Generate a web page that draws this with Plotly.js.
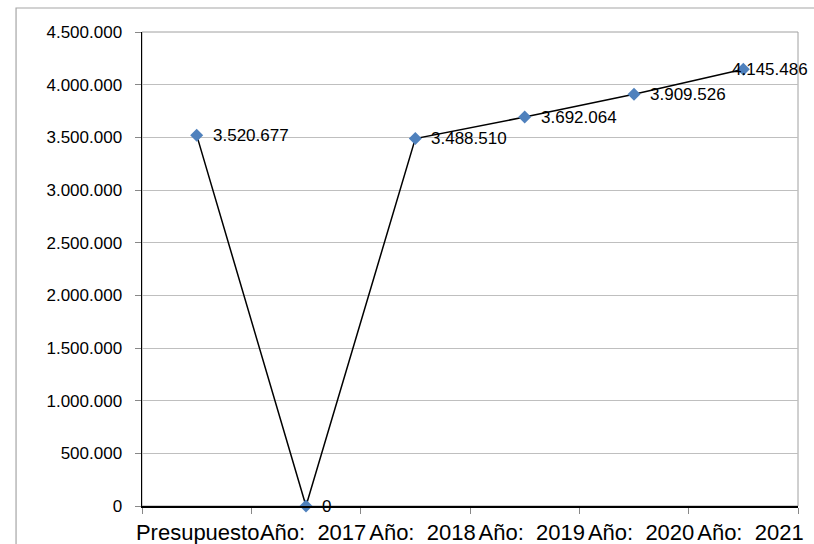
<!DOCTYPE html>
<html>
<head>
<meta charset="utf-8">
<script src="https://cdn.plot.ly/plotly-3.0.1.min.js"></script>
<style>
html, body { margin: 0; padding: 0; background: #ffffff; }
#chart { width: 814px; height: 544px; }
</style>
</head>
<body>
<div id="chart"></div>
<script>
// ---- data ----
const categories = ['Presupuesto', 'Año:  2017', 'Año:  2018', 'Año:  2019', 'Año:  2020', 'Año:  2021'];
const values = [3520677, 0, 3488510, 3692064, 3909526, 4145486];
const yTickValues = [0, 500000, 1000000, 1500000, 2000000, 2500000, 3000000, 3500000, 4000000, 4500000];

// ---- helpers ----
const fmt = v => String(v).replace(/\B(?=(\d{3})+(?!\d))/g, '.');
const NB = '\u00a0';
// keep double spaces visible; year labels sit slightly right of their category centre in the reference
const xTickText = categories.map((c, i) => (i === 0 ? '' : NB + NB) + c.replace(/ /g, NB));
const FONT = '"Liberation Sans", Arial, sans-serif';

// plot area in pixels: x 142..798, y 32..506
const labelShift = [14, 14, 14, 14, 14, -13];

const trace = {
  type: 'scatter',
  mode: 'lines+markers',
  x: categories,
  y: values,
  line: { color: '#000000', width: 1.5 },
  marker: { symbol: 'diamond', size: 10, color: '#4f81bd' },
  cliponaxis: false,
  hoverinfo: 'skip'
};

const annotations = categories.map((c, i) => ({
  x: c, y: values[i], xref: 'x', yref: 'y',
  text: fmt(values[i]),
  showarrow: false,
  xanchor: 'left', yanchor: 'middle',
  xshift: labelShift[i],
  font: { family: FONT, size: 17, color: '#000000' }
}));

const layout = {
  width: 814, height: 544,
  margin: { l: 142, r: 16, t: 32, b: 38, pad: 0 },
  paper_bgcolor: '#ffffff', plot_bgcolor: '#ffffff',
  showlegend: false,
  font: { family: FONT, color: '#000000' },
  xaxis: {
    type: 'category',
    range: [-0.5, categories.length - 0.5],
    tickmode: 'array',
    tickvals: categories,
    ticktext: xTickText,
    tickson: 'boundaries',
    ticks: 'outside', ticklen: 6, tickcolor: '#888888', tickwidth: 1,
    showline: true, linecolor: '#000000', linewidth: 1.5,
    showgrid: false, zeroline: false,
    tickangle: 0,
    tickfont: { family: FONT, size: 22, color: '#000000' },
    ticklabelshift: 1,
    ticklabelstandoff: 6,
    fixedrange: true
  },
  yaxis: {
    range: [0, 4500000],
    tickmode: 'array',
    tickvals: yTickValues,
    ticktext: yTickValues.map(fmt),
    ticks: 'outside', ticklen: 6, tickcolor: '#888888', tickwidth: 1,
    showline: true, linecolor: '#000000', linewidth: 1.5,
    showgrid: true, gridcolor: '#bfbfbf', gridwidth: 1,
    zeroline: false,
    tickfont: { family: FONT, size: 17, color: '#000000' },
    ticklabelstandoff: 9,
    fixedrange: true
  },
  shapes: [
    { type: 'rect', xref: 'paper', yref: 'paper', x0: 0, x1: 1, y0: 0, y1: 1,
      line: { color: '#a0a0a0', width: 1 }, layer: 'below' },
    { type: 'rect', xref: 'paper', yref: 'paper', x0: -0.192, x1: 1.06, y0: -0.2, y1: 1.0506,
      line: { color: '#a6a6a6', width: 1.2 }, layer: 'below' }
  ],
  annotations: annotations
};

Plotly.newPlot('chart', [trace], layout, { displayModeBar: false, staticPlot: true });
</script>
</body>
</html>
